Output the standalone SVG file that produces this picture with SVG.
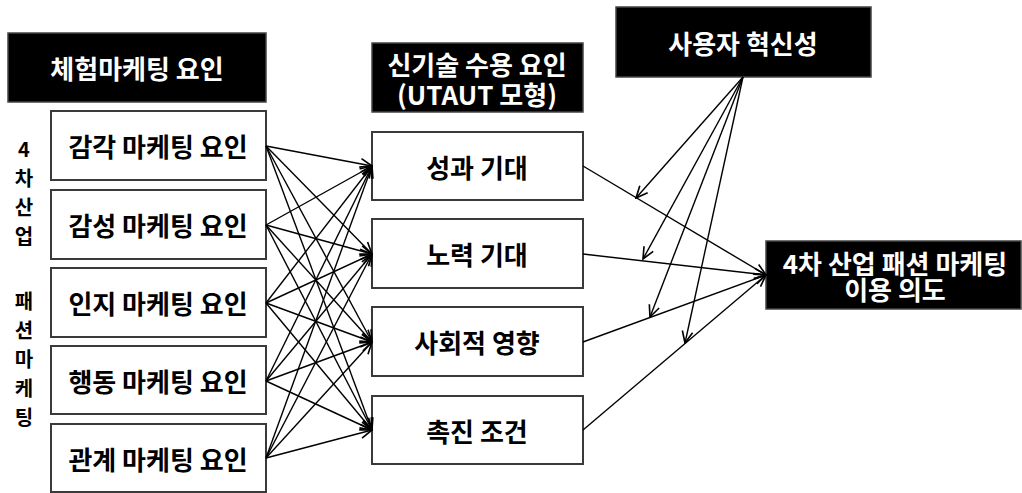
<svg xmlns="http://www.w3.org/2000/svg" width="1022" height="493" viewBox="0 0 1022 493">
<style>
text{font-family:"Noto Sans CJK KR","Liberation Sans",sans-serif;font-weight:bold;text-anchor:middle;dominant-baseline:central}
.hdr rect{fill:#000;stroke:#444;stroke-width:1.5}
.hdr text{fill:#fff;font-size:26px}
.box rect{fill:#fff;stroke:#3a3a3a;stroke-width:2}
.box text{fill:#000;font-size:26px}
.side text{font-size:20px;fill:#000}
.conn line{stroke:#000;stroke-width:1.4;fill:none;marker-end:url(#ah)}
</style>
<defs>
<marker id="ah" markerUnits="userSpaceOnUse" markerWidth="14" markerHeight="14" viewBox="0 0 12 12" refX="11" refY="6" orient="auto">
<path d="M1,1.5 L11,6 L1,10.5" fill="none" stroke="#000" stroke-width="1.4"/>
</marker>
</defs>
<rect width="1022" height="493" fill="#fff"/>

<g id="hdr-exp" class="hdr"><rect x="8" y="33" width="258" height="69"/><text x="137" y="67">체험마케팅 요인</text></g>
<g id="hdr-utaut" class="hdr"><rect x="372" y="43" width="211" height="69"/><text x="477" y="63">신기술 수용 요인</text><text x="477" y="93">(UTAUT 모형)</text></g>
<g id="hdr-innov" class="hdr"><rect x="616" y="7" width="255" height="70"/><text x="743" y="42">사용자 혁신성</text></g>
<g id="target" class="hdr"><rect x="766" y="241" width="255" height="68"/><text x="895" y="262">4차 산업 패션 마케팅</text><text x="895" y="288">이용 의도</text></g>

<g id="side-label" class="side">
<text x="24" y="148">4</text><text x="24" y="177">차</text><text x="24" y="206">산</text><text x="24" y="235">업</text>
<text x="24" y="300">패</text><text x="24" y="329">션</text><text x="24" y="358">마</text><text x="24" y="387">케</text><text x="24" y="416">팅</text>
</g>

<g id="l1" class="box"><rect x="51" y="111" width="215" height="69"/><text x="158" y="145">감각 마케팅 요인</text></g>
<g id="l2" class="box"><rect x="51" y="190" width="215" height="69"/><text x="158" y="224">감성 마케팅 요인</text></g>
<g id="l3" class="box"><rect x="51" y="268" width="215" height="69"/><text x="158" y="302">인지 마케팅 요인</text></g>
<g id="l4" class="box"><rect x="51" y="346" width="215" height="68"/><text x="158" y="380">행동 마케팅 요인</text></g>
<g id="l5" class="box"><rect x="51" y="424" width="215" height="68"/><text x="158" y="458">관계 마케팅 요인</text></g>

<g id="m1" class="box"><rect x="372" y="132" width="211" height="68"/><text x="477" y="166">성과 기대</text></g>
<g id="m2" class="box"><rect x="372" y="219" width="211" height="69"/><text x="477" y="253">노력 기대</text></g>
<g id="m3" class="box"><rect x="372" y="307" width="211" height="69"/><text x="477" y="341">사회적 영향</text></g>
<g id="m4" class="box"><rect x="372" y="396" width="211" height="68"/><text x="477" y="430">촉진 조건</text></g>

<g id="connectors" class="conn">
<line x1="266" y1="146" x2="372" y2="166"/><line x1="266" y1="146" x2="372" y2="254"/><line x1="266" y1="146" x2="372" y2="342"/><line x1="266" y1="146" x2="372" y2="430"/>
<line x1="266" y1="225" x2="372" y2="166"/><line x1="266" y1="225" x2="372" y2="254"/><line x1="266" y1="225" x2="372" y2="342"/><line x1="266" y1="225" x2="372" y2="430"/>
<line x1="266" y1="303" x2="372" y2="166"/><line x1="266" y1="303" x2="372" y2="254"/><line x1="266" y1="303" x2="372" y2="342"/><line x1="266" y1="303" x2="372" y2="430"/>
<line x1="266" y1="381" x2="372" y2="166"/><line x1="266" y1="381" x2="372" y2="254"/><line x1="266" y1="381" x2="372" y2="342"/><line x1="266" y1="381" x2="372" y2="430"/>
<line x1="266" y1="458" x2="372" y2="166"/><line x1="266" y1="458" x2="372" y2="254"/><line x1="266" y1="458" x2="372" y2="342"/><line x1="266" y1="458" x2="372" y2="430"/>
<line x1="583" y1="166" x2="766" y2="275"/><line x1="583" y1="254" x2="766" y2="275"/><line x1="583" y1="342" x2="766" y2="275"/><line x1="583" y1="430" x2="766" y2="275"/>
<line x1="743" y1="77" x2="636" y2="198"/><line x1="743" y1="77" x2="643" y2="259"/><line x1="743" y1="77" x2="650" y2="317"/><line x1="743" y1="77" x2="685" y2="343"/>
</g>
</svg>
